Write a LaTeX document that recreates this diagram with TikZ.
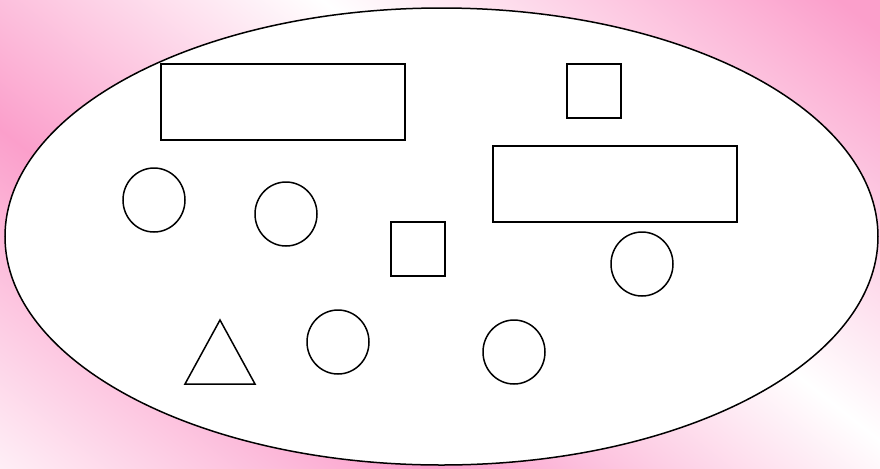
\documentclass[tikz,border=0pt]{standalone}
\definecolor{bandpink}{RGB}{251,159,203}
\tikzset{
  outline/.style={draw=black, line width=0.75pt, fill=white},
  round shape/.style={outline, x radius=31, y radius=32}
}
\begin{document}
\begin{tikzpicture}[x=0.5pt, y=-0.5pt]
  \useasboundingbox (0,0) rectangle (880,468);
  \clip (0,0) rectangle (880,468);
  % background bands
  \begin{scope}[y=0.5pt, transform canvas={shift={(440,-234)}, rotate=-38.3}]
    \fill[white] (-1000,-1000) rectangle (1000,-510);
    \shade[bottom color=white, top color=bandpink] (-1000,-511) rectangle (1000,-190);
    \shade[bottom color=bandpink, top color=white] (-1000,-191) rectangle (1000,111);
    \shade[bottom color=white, top color=bandpink] (-1000,110) rectangle (1000,431);
    \fill[bandpink] (-1000,430) rectangle (1000,1000);
  \end{scope}
  % big ellipse
  \draw[outline] (441.5,236.5) ellipse [x radius=436.5, y radius=228.5];
  % boxes
  \draw[outline] (161,64) rectangle (405,140);
  \draw[outline] (567,64) rectangle (621,118);
  \draw[outline] (493,146) rectangle (737,222);
  \draw[outline] (391,222) rectangle (445,276);
  % circles
  \foreach \cx/\cy in {154/200, 286/214, 642/264, 338/342, 514/352}{
    \draw[round shape] (\cx,\cy) ellipse [];
  }
  % triangle
  \draw[outline, line join=miter] (220,320) -- (255,384) -- (185,384) -- cycle;
\end{tikzpicture}
\end{document}
